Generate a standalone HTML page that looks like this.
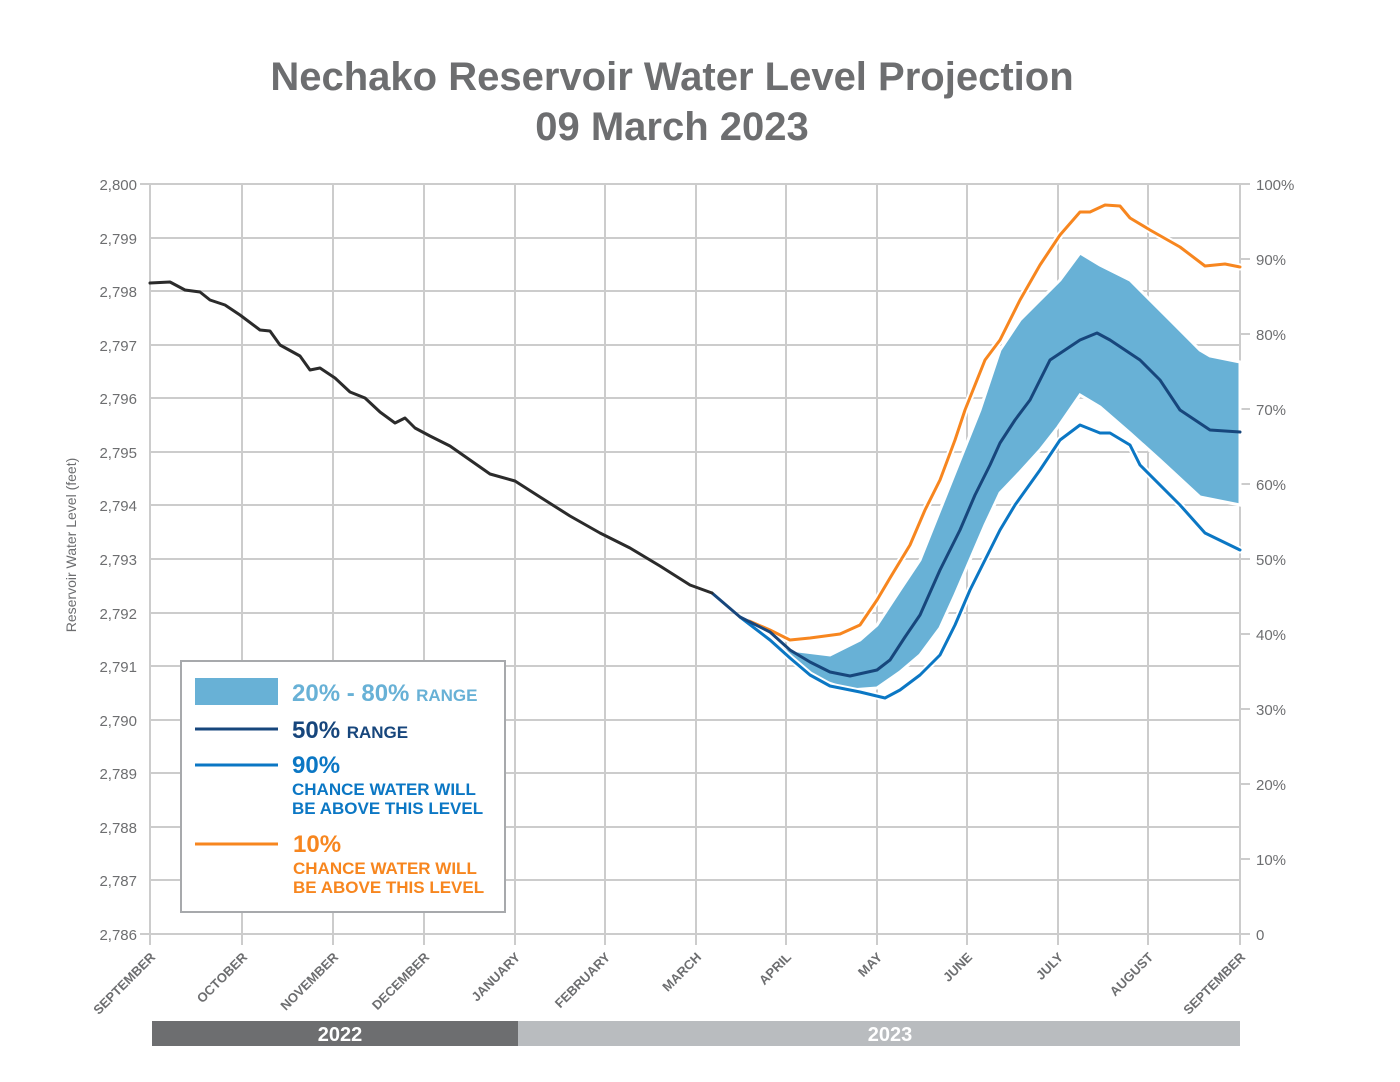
<!DOCTYPE html>
<html><head><meta charset="utf-8"><style>
html,body{margin:0;padding:0;background:#fff;}
svg{display:block;font-family:"Liberation Sans",sans-serif;}
</style></head><body>
<svg width="1400" height="1082" viewBox="0 0 1400 1082" xmlns="http://www.w3.org/2000/svg">
<rect width="1400" height="1082" fill="#fff"/>
<text x="672" y="90" text-anchor="middle" font-size="40" font-weight="bold" fill="#6d6e70">Nechako Reservoir Water Level Projection</text>
<text x="672" y="140" text-anchor="middle" font-size="40" font-weight="bold" fill="#6d6e70">09 March 2023</text>
<g stroke="#cccccc" stroke-width="2">
<line x1="150" y1="184" x2="1240" y2="184"/><line x1="150" y1="238" x2="1240" y2="238"/><line x1="150" y1="291" x2="1240" y2="291"/><line x1="150" y1="345" x2="1240" y2="345"/><line x1="150" y1="398" x2="1240" y2="398"/><line x1="150" y1="452" x2="1240" y2="452"/><line x1="150" y1="505" x2="1240" y2="505"/><line x1="150" y1="559" x2="1240" y2="559"/><line x1="150" y1="613" x2="1240" y2="613"/><line x1="150" y1="666" x2="1240" y2="666"/><line x1="150" y1="720" x2="1240" y2="720"/><line x1="150" y1="773" x2="1240" y2="773"/><line x1="150" y1="827" x2="1240" y2="827"/><line x1="150" y1="880" x2="1240" y2="880"/><line x1="150" y1="934" x2="1240" y2="934"/>
<line x1="150" y1="184" x2="150" y2="945"/><line x1="242" y1="184" x2="242" y2="945"/><line x1="333" y1="184" x2="333" y2="945"/><line x1="424" y1="184" x2="424" y2="945"/><line x1="515" y1="184" x2="515" y2="945"/><line x1="605" y1="184" x2="605" y2="945"/><line x1="696" y1="184" x2="696" y2="945"/><line x1="786" y1="184" x2="786" y2="945"/><line x1="877" y1="184" x2="877" y2="945"/><line x1="967" y1="184" x2="967" y2="945"/><line x1="1058" y1="184" x2="1058" y2="945"/><line x1="1148" y1="184" x2="1148" y2="945"/><line x1="1240" y1="184" x2="1240" y2="945"/>
<line x1="140" y1="184" x2="150" y2="184"/><line x1="140" y1="934" x2="150" y2="934"/>
<line x1="1240" y1="184" x2="1250" y2="184"/><line x1="1240" y1="259" x2="1250" y2="259"/><line x1="1240" y1="334" x2="1250" y2="334"/><line x1="1240" y1="409" x2="1250" y2="409"/><line x1="1240" y1="484" x2="1250" y2="484"/><line x1="1240" y1="559" x2="1250" y2="559"/><line x1="1240" y1="634" x2="1250" y2="634"/><line x1="1240" y1="709" x2="1250" y2="709"/><line x1="1240" y1="784" x2="1250" y2="784"/><line x1="1240" y1="859" x2="1250" y2="859"/><line x1="1240" y1="934" x2="1250" y2="934"/>
</g>
<g font-size="15" fill="#6d6e70" text-anchor="end">
<text x="137" y="190">2,800</text><text x="137" y="244">2,799</text><text x="137" y="297">2,798</text><text x="137" y="351">2,797</text><text x="137" y="404">2,796</text><text x="137" y="458">2,795</text><text x="137" y="511">2,794</text><text x="137" y="565">2,793</text><text x="137" y="619">2,792</text><text x="137" y="672">2,791</text><text x="137" y="726">2,790</text><text x="137" y="779">2,789</text><text x="137" y="833">2,788</text><text x="137" y="886">2,787</text><text x="137" y="940">2,786</text>
</g>
<g font-size="15" fill="#6d6e70">
<text x="1256" y="190">100%</text><text x="1256" y="265">90%</text><text x="1256" y="340">80%</text><text x="1256" y="415">70%</text><text x="1256" y="490">60%</text><text x="1256" y="565">50%</text><text x="1256" y="640">40%</text><text x="1256" y="715">30%</text><text x="1256" y="790">20%</text><text x="1256" y="865">10%</text><text x="1256" y="940">0</text>
</g>
<text transform="translate(76,545) rotate(-90)" text-anchor="middle" font-size="14" fill="#6d6e70">Reservoir Water Level (feet)</text>
<g font-size="13" fill="#6d6e70" font-weight="bold" text-anchor="end">
<text transform="translate(156,958) rotate(-45)">SEPTEMBER</text><text transform="translate(248,958) rotate(-45)">OCTOBER</text><text transform="translate(339,958) rotate(-45)">NOVEMBER</text><text transform="translate(430,958) rotate(-45)">DECEMBER</text><text transform="translate(521,958) rotate(-45)">JANUARY</text><text transform="translate(611,958) rotate(-45)">FEBRUARY</text><text transform="translate(702,958) rotate(-45)">MARCH</text><text transform="translate(792,958) rotate(-45)">APRIL</text><text transform="translate(883,958) rotate(-45)">MAY</text><text transform="translate(973,958) rotate(-45)">JUNE</text><text transform="translate(1064,958) rotate(-45)">JULY</text><text transform="translate(1154,958) rotate(-45)">AUGUST</text><text transform="translate(1246,958) rotate(-45)">SEPTEMBER</text>
</g>
<rect x="152" y="1021" width="366" height="25" fill="#6d6e70"/>
<rect x="518" y="1021" width="722" height="25" fill="#b9bcbf"/>
<text x="340" y="1041" text-anchor="middle" font-size="20" font-weight="bold" fill="#fff">2022</text>
<text x="890" y="1041" text-anchor="middle" font-size="20" font-weight="bold" fill="#fff">2023</text>
<polygon fill="#68b1d6" stroke="#fff" stroke-width="3" points="740,617 790,650 830,655 860,640 877,625 900,590 920,560 940,510 960,460 980,410 1000,350 1020,320 1040,300 1060,280 1080,253 1100,265 1130,280 1170,320 1200,350 1210,356 1240,362 1240,505 1200,497 1160,460 1130,433 1100,407 1080,395 1058,427 1040,450 1020,472 1000,493 985,525 970,560 955,595 940,628 920,655 900,672 877,688 850,690 820,680 790,660"/>
<g fill="none" stroke-linejoin="round" stroke-linecap="round">
<polyline stroke="#fff" stroke-width="7" points="740,617 770,630 790,640 810,638 840,634 860,625 877,600 890,578 910,545 925,510 940,480 955,440 965,410 985,360 1000,340 1020,300 1040,265 1060,235 1080,212 1090,212 1105,205 1120,206 1130,218 1150,230 1180,247 1205,266 1225,264 1240,267"/>
<polyline stroke="#f7861f" stroke-width="3" points="740,617 770,630 790,640 810,638 840,634 860,625 877,600 890,578 910,545 925,510 940,480 955,440 965,410 985,360 1000,340 1020,300 1040,265 1060,235 1080,212 1090,212 1105,205 1120,206 1130,218 1150,230 1180,247 1205,266 1225,264 1240,267"/>
<polyline stroke="#fff" stroke-width="7" points="740,617 770,640 790,658 810,675 830,686 860,692 885,698 900,690 920,675 940,655 955,625 970,590 1000,530 1015,505 1040,470 1060,440 1080,425 1100,433 1110,433 1130,445 1140,465 1180,505 1205,533 1240,550"/>
<polyline stroke="#0b77c4" stroke-width="3" points="740,617 770,640 790,658 810,675 830,686 860,692 885,698 900,690 920,675 940,655 955,625 970,590 1000,530 1015,505 1040,470 1060,440 1080,425 1100,433 1110,433 1130,445 1140,465 1180,505 1205,533 1240,550"/>
<polyline stroke="#17467c" stroke-width="3" points="712,593 740,617 770,632 790,650 810,662 830,672 850,676 877,670 890,660 905,637 920,615 940,570 960,530 975,495 990,465 1000,443 1015,420 1030,400 1050,360 1065,350 1080,340 1097,333 1110,340 1140,360 1160,380 1180,410 1210,430 1240,432"/>
<polyline stroke="#2b2b2b" stroke-width="3" points="150,283 170,282 185,290 200,292 210,300 225,305 240,315 260,330 270,331 280,345 300,356 310,370 320,368 335,378 350,392 365,398 380,412 395,423 405,418 415,428 430,436 450,446 470,460 490,474 515,481 540,497 570,516 600,533 630,548 660,566 690,585 712,593"/>
</g>
<rect x="181" y="661" width="324" height="251" fill="#fff" stroke="#a7a9ac" stroke-width="2"/>
<rect x="195" y="678" width="83" height="27" fill="#68b1d6"/>
<line x1="195" y1="729" x2="278" y2="729" stroke="#17467c" stroke-width="3"/>
<line x1="195" y1="765" x2="278" y2="765" stroke="#0b77c4" stroke-width="3"/>
<line x1="195" y1="844" x2="278" y2="844" stroke="#f7861f" stroke-width="3"/>
<g font-weight="bold">
<text x="292" y="701" font-size="24" fill="#68b1d6">20% - 80% <tspan font-size="17">RANGE</tspan></text>
<text x="292" y="738" font-size="24" fill="#17467c">50% <tspan font-size="17">RANGE</tspan></text>
<text x="292" y="773" font-size="24" fill="#0b77c4">90%</text>
<text x="292" y="795" font-size="17" fill="#0b77c4">CHANCE WATER WILL</text>
<text x="292" y="814" font-size="17" fill="#0b77c4">BE ABOVE THIS LEVEL</text>
<text x="293" y="852" font-size="24" fill="#f7861f">10%</text>
<text x="293" y="874" font-size="17" fill="#f7861f">CHANCE WATER WILL</text>
<text x="293" y="893" font-size="17" fill="#f7861f">BE ABOVE THIS LEVEL</text>
</g>
</svg>
</body></html>
